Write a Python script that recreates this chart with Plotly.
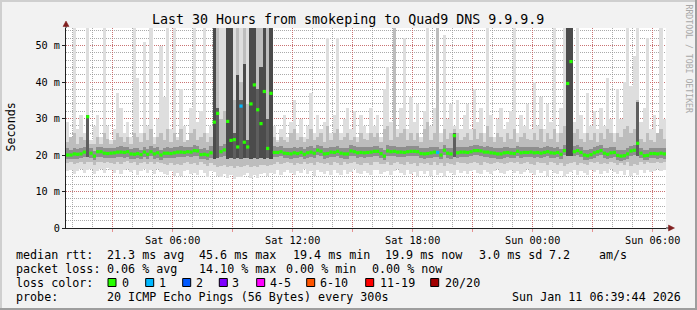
import pandas as pd
import plotly.graph_objects as go

TITLE = "Last 30 Hours from smokeping to Quad9 DNS 9.9.9.9"
START = "2026-01-10 00:40:00"
END = "2026-01-11 06:40:00"
STEP_MIN = 10

# median rtt per 10-minute interval (ms)
median_ms = [
    20.0, 20.0, 20.3, 20.2, 20.3, 20.8, 30.5, 20.5, 19.7, 20.9,
    20.9, 20.5, 20.4, 20.5, 20.6, 20.8, 20.8, 20.7, 20.9, 20.3,
    20.2, 20.4, 20.1, 20.8, 20.2, 20.9, 20.3, 20.6, 20.0, 20.5,
    20.5, 20.4, 20.6, 20.8, 20.8, 20.7, 20.9, 20.8, 21.2, 21.1,
    20.1, 20.2, 20.0, 20.6, 29.0, 31.4, 20.9, 21.4, 29.2, 24.0,
    24.2, 22.2, 33.4, 23.5, 22.2, 34.0, 39.2, 32.4, 28.6, 37.4,
    21.8, 36.9, 20.7, 20.7, 20.9, 20.5, 20.4, 20.3, 20.6, 20.4,
    20.7, 20.2, 20.6, 20.8, 20.5, 21.3, 21.0, 20.3, 20.4, 20.8,
    20.7, 21.0, 20.5, 20.3, 20.3, 21.1, 20.9, 20.6, 20.7, 20.6,
    20.7, 20.8, 21.0, 21.0, 20.4, 19.7, 21.1, 20.9, 21.0, 20.8,
    20.8, 20.7, 20.9, 21.0, 21.0, 20.9, 20.4, 20.3, 20.4, 20.6,
    20.8, 20.7, 20.0, 21.3, 20.5, 20.3, 25.3, 20.6, 20.8, 20.8,
    20.7, 20.9, 21.2, 21.2, 21.1, 20.8, 20.8, 20.6, 20.5, 20.3,
    20.3, 20.6, 20.7, 20.5, 20.4, 21.0, 20.6, 20.7, 20.7, 20.8,
    20.6, 20.7, 20.5, 20.7, 20.9, 20.6, 20.5, 20.7, 20.2, 21.2,
    39.6, 45.6, 20.9, 21.2, 20.7, 20.0, 19.8, 20.1, 20.6, 20.9,
    21.2, 20.5, 20.2, 20.6, 20.7, 19.9, 19.7, 19.8, 20.3, 21.1,
    21.3, 23.2, 20.5, 19.8, 19.9, 20.4, 20.4, 20.3, 20.5, 20.3,
]

# lost pings per interval (of 20)
loss_cnt = [
    0, 0, 0, 0, 0, 0, 0, 0, 0, 0, 0, 0, 0, 0, 0, 0, 0, 0, 0, 0,
    0, 0, 0, 0, 0, 0, 0, 0, 0, 0, 0, 0, 0, 0, 0, 0, 0, 0, 0, 0,
    0, 0, 0, 0, 0, 0, 0, 0, 0, 0, 0, 0, 1, 0, 0, 0, 0, 0, 0, 0,
    0, 0, 0, 0, 0, 0, 0, 0, 0, 0, 0, 0, 0, 0, 0, 0, 0, 0, 0, 0,
    0, 0, 0, 0, 0, 0, 0, 0, 0, 0, 0, 0, 0, 0, 0, 0, 0, 0, 0, 0,
    0, 0, 0, 0, 0, 0, 0, 0, 0, 0, 0, 1, 0, 0, 0, 0, 0, 0, 0, 0,
    0, 0, 0, 0, 0, 0, 0, 0, 0, 0, 0, 0, 0, 0, 0, 0, 0, 0, 0, 0,
    0, 0, 0, 0, 0, 0, 0, 0, 0, 0, 0, 0, 0, 0, 0, 0, 0, 0, 0, 0,
    0, 0, 0, 0, 0, 0, 0, 0, 0, 0, 0, 0, 0, 0, 0, 0, 0, 0, 0, 0,
]

# outer smoke (fastest .. slowest ping), ms
smoke_lo = [
    15.5, 16.0, 14.8, 15.6, 16.2, 15.0, 15.8, 16.3, 14.9, 15.7,
    16.1, 15.2, 16.4, 15.8, 15.0, 16.0, 14.7, 15.9, 16.3, 15.4,
    16.0, 14.6, 15.7, 16.2, 15.1, 15.9, 14.8, 16.1, 15.3, 14.9,
    14.5, 15.6, 14.2, 15.0, 14.3, 15.5, 16.0, 14.8, 15.2, 14.4,
    16.0, 15.1, 14.0, 15.7, 15.3, 14.2, 13.9, 14.8, 13.6, 14.5,
    13.5, 14.1, 13.9, 14.4, 15.0, 13.8, 14.6, 13.7, 14.8, 15.1,
    14.3, 15.2, 14.9, 15.8, 14.6, 15.4, 16.0, 15.1, 14.5, 15.7,
    15.0, 16.1, 14.7, 15.5, 14.2, 15.9, 15.3, 14.8, 15.6, 14.4,
    16.0, 15.2, 14.6, 15.8, 14.9, 15.4, 16.2, 15.0, 14.7, 15.6,
    15.1, 14.5, 15.8, 16.0, 14.8, 15.3, 15.7, 14.4, 15.5, 16.1,
    15.0, 14.6, 15.9, 14.8, 15.4, 14.2, 15.7, 14.9, 15.5, 14.3,
    15.8, 14.4, 15.2, 14.0, 15.6, 15.0, 14.6, 15.8, 15.1, 15.7,
    14.8, 15.5, 16.0, 15.2, 14.7, 15.9, 15.3, 14.9, 15.6, 16.1,
    15.2, 14.8, 15.6, 16.0, 15.1, 15.7, 14.9, 15.4, 16.2, 15.0,
    14.6, 15.8, 15.1, 15.5, 14.3, 15.9, 15.2, 14.7, 15.6, 14.1,
    14.9, 15.4, 15.8, 14.5, 15.7, 15.0, 14.6, 16.0, 15.3, 15.8,
    14.9, 15.6, 15.2, 16.1, 15.4, 14.8, 15.5, 14.5, 15.9, 14.2,
    15.0, 14.6, 15.8, 15.2, 16.0, 15.4, 15.7, 16.2, 15.5, 16.0,
]
smoke_hi = [
    29, 25, 56, 27, 31, 26, 56, 24, 28, 31,
    25, 56, 28, 24, 27, 37, 33, 26, 29, 25,
    56, 41, 26, 51, 28, 56, 25, 30, 50, 36,
    56, 27, 56, 25, 38, 28, 24, 33, 56, 29,
    32, 56, 26, 28, 56, 56, 56, 56, 56, 56,
    56, 56, 56, 56, 56, 56, 56, 56, 56, 56,
    56, 56, 28, 24, 27, 31, 25, 29, 35, 26,
    30, 25, 28, 37, 26, 31, 27, 29, 52, 26,
    31, 52, 26, 30, 33, 27, 32, 25, 31, 28,
    26, 33, 28, 31, 25, 38, 44, 29, 56, 27,
    33, 52, 27, 36, 29, 34, 25, 32, 56, 28,
    33, 56, 26, 53, 30, 34, 28, 35, 27, 31,
    34, 27, 38, 29, 33, 26, 56, 31, 25, 30,
    33, 27, 29, 32, 56, 26, 31, 28, 34, 27,
    40, 28, 36, 27, 34, 29, 56, 26, 33, 56,
    56, 56, 29, 56, 31, 26, 37, 28, 32, 27,
    33, 28, 41, 30, 26, 38, 30, 40, 56, 39,
    47, 56, 29, 33, 52, 27, 31, 26, 56, 30,
]

# middle smoke band, ms
mid_lo = [
    17.8, 18.0, 17.5, 17.9, 18.1, 17.6, 18.0, 18.2, 17.4, 18.0,
    18.2, 17.8, 18.1, 17.9, 17.6, 18.0, 17.5, 18.1, 18.3, 17.7,
    18.0, 17.4, 17.9, 18.2, 17.6, 18.0, 17.5, 18.1, 17.7, 17.5,
    17.3, 17.8, 17.2, 17.6, 17.3, 17.8, 18.0, 17.5, 17.7, 17.2,
    18.0, 17.6, 17.1, 17.9, 17.2, 16.8, 16.9, 17.3, 16.6, 17.0,
    16.5, 16.9, 16.7, 17.0, 17.4, 16.6, 17.1, 16.8, 17.2, 17.4,
    17.0, 17.3, 17.6, 18.0, 17.5, 17.8, 18.1, 17.7, 17.4, 17.9,
    17.6, 18.2, 17.5, 17.8, 17.2, 18.1, 17.8, 17.5, 17.9, 17.3,
    18.1, 17.8, 17.4, 18.0, 17.6, 17.8, 18.2, 17.6, 17.4, 17.9,
    17.7, 17.3, 18.0, 18.1, 17.5, 17.6, 18.0, 17.2, 17.8, 18.2,
    17.6, 17.3, 18.0, 17.5, 17.8, 17.1, 17.9, 17.5, 17.8, 17.2,
    18.0, 17.3, 17.7, 17.0, 17.9, 17.6, 17.4, 18.0, 17.7, 17.9,
    17.5, 17.8, 18.2, 17.8, 17.4, 18.0, 17.8, 17.5, 17.9, 18.2,
    17.8, 17.5, 17.9, 18.1, 17.7, 18.0, 17.5, 17.8, 18.2, 17.6,
    17.4, 18.0, 17.7, 17.9, 17.2, 18.0, 17.7, 17.4, 17.9, 17.1,
    17.6, 17.8, 18.0, 17.3, 17.9, 17.5, 17.2, 18.1, 17.8, 18.0,
    17.6, 17.9, 17.6, 18.2, 17.8, 17.4, 17.8, 17.2, 18.0, 17.1,
    17.6, 17.4, 18.0, 17.6, 18.1, 17.8, 17.9, 18.2, 17.8, 18.1,
]
mid_hi = [
    23.5, 25, 26, 23, 25, 24, 31, 23, 23, 25,
    23, 26, 24.5, 23, 24, 26, 25, 23.5, 25, 23,
    26, 25, 23.5, 26, 24, 27, 23, 25, 26, 24,
    27, 23.5, 26, 24, 27, 23.5, 24, 26, 27, 24,
    25, 26, 23.5, 25, 56, 56, 30, 32, 56, 56,
    35, 56, 40, 56, 34, 56, 56, 56, 56, 56,
    56, 56, 25, 23.5, 25, 24, 23.5, 26, 27, 24,
    25, 23.5, 24.5, 27, 24, 25, 26, 23.5, 28, 24,
    26, 27, 24, 25, 26, 24, 25, 23.5, 26, 24.5,
    24, 26, 25, 26, 23.5, 27, 28, 24, 56, 25,
    26, 27, 24, 26, 24, 26, 23.5, 27, 29, 24,
    26, 56, 23.5, 27, 24.5, 26, 27, 26, 24, 25,
    26, 24, 27, 24.5, 26, 23.5, 28, 25, 23.5, 26,
    25, 23.5, 26, 24.5, 27, 23.5, 25, 26, 24.5, 24,
    26, 24, 27, 23.5, 26, 24.5, 27, 23.5, 26, 28,
    56, 56, 26, 27, 24.5, 23.5, 26, 24, 26, 23.5,
    26, 24.5, 27, 26, 23.5, 26, 25, 27, 28, 26,
    27, 35, 24.5, 23.5, 26, 24, 23.5, 26, 27, 24.5,
]

# inner (dense) smoke band, ms
dark_lo = [
    18.8, 18.9, 19.0, 19.0, 19.1, 19.4, 19.5, 19.2, 18.6, 19.5,
    19.5, 19.2, 19.1, 19.2, 19.3, 19.4, 19.5, 19.3, 19.5, 19.0,
    18.9, 19.1, 18.8, 19.4, 18.9, 19.6, 19.0, 19.3, 18.7, 19.2,
    19.2, 19.1, 19.3, 19.5, 19.4, 19.4, 19.6, 19.5, 19.8, 19.7,
    18.8, 18.9, 18.7, 19.3, 19.0, 19.2, 19.4, 19.6, 19.0, 19.2,
    19.0, 19.3, 19.0, 19.2, 19.1, 19.0, 19.2, 19.0, 19.1, 19.0,
    19.3, 19.0, 19.4, 19.4, 19.6, 19.2, 19.1, 19.0, 19.3, 19.1,
    19.4, 18.9, 19.3, 19.5, 19.2, 19.9, 19.7, 19.0, 19.1, 19.5,
    19.4, 19.7, 19.2, 19.0, 19.0, 19.8, 19.6, 19.3, 19.4, 19.3,
    19.4, 19.5, 19.7, 19.7, 19.1, 18.5, 19.8, 19.6, 19.7, 19.5,
    19.5, 19.4, 19.6, 19.7, 19.7, 19.6, 19.1, 19.0, 19.1, 19.3,
    19.5, 19.4, 18.8, 20.0, 19.2, 19.0, 19.5, 19.3, 19.5, 19.5,
    19.4, 19.6, 19.9, 19.9, 19.8, 19.5, 19.5, 19.3, 19.2, 19.0,
    19.0, 19.3, 19.4, 19.2, 19.1, 19.7, 19.3, 19.4, 19.4, 19.5,
    19.3, 19.4, 19.2, 19.4, 19.6, 19.3, 19.2, 19.4, 18.9, 19.9,
    19.8, 19.6, 19.6, 19.9, 19.4, 18.7, 18.5, 18.8, 19.3, 19.6,
    19.9, 19.2, 18.9, 19.3, 19.4, 18.6, 18.4, 18.5, 19.0, 19.8,
    20.0, 19.6, 19.2, 18.5, 18.6, 19.1, 19.1, 19.0, 19.2, 19.0,
]
dark_hi = [
    21.8, 21.5, 21.9, 21.6, 21.8, 22.2, 31.0, 21.9, 21.2, 22.3,
    22.2, 21.9, 21.8, 21.9, 22.0, 22.3, 22.4, 22.1, 22.3, 21.7,
    21.8, 22.0, 21.5, 22.3, 21.7, 22.5, 21.8, 22.1, 21.5, 22.0,
    22.1, 21.9, 22.2, 22.3, 22.4, 22.1, 22.3, 22.2, 22.8, 22.5,
    21.6, 21.8, 21.5, 22.4, 56.0, 33.0, 22.5, 23.0, 56.0, 56.0,
    26.0, 42.0, 35.0, 45.0, 24.0, 56.0, 56.0, 38.0, 44.0, 56.0,
    30.0, 56.0, 22.5, 22.2, 22.4, 22.0, 21.9, 21.8, 22.1, 21.9,
    22.2, 21.7, 22.1, 22.4, 22.0, 22.8, 22.5, 21.8, 22.0, 22.3,
    22.2, 22.6, 22.0, 21.8, 21.9, 22.7, 22.4, 22.1, 22.2, 22.1,
    22.2, 22.3, 22.6, 22.5, 21.9, 21.3, 22.7, 22.4, 22.6, 22.3,
    22.3, 22.2, 22.4, 22.6, 22.5, 22.4, 21.9, 21.8, 22.0, 22.1,
    22.3, 22.3, 21.6, 22.8, 22.0, 21.8, 26.0, 22.1, 22.3, 22.3,
    22.2, 22.4, 22.7, 22.7, 22.6, 22.3, 22.4, 22.1, 22.0, 21.8,
    21.8, 22.1, 22.2, 22.0, 22.0, 22.5, 22.1, 22.2, 22.2, 22.3,
    22.1, 22.2, 22.0, 22.2, 22.4, 22.1, 22.0, 22.2, 21.7, 22.8,
    56.0, 56.0, 22.5, 22.7, 22.2, 21.5, 21.4, 21.6, 22.1, 22.4,
    22.7, 22.0, 21.8, 22.1, 22.2, 21.5, 21.3, 21.4, 21.9, 22.6,
    22.8, 34.5, 22.0, 21.4, 21.5, 21.9, 22.0, 21.8, 22.0, 21.8,
]

y_tickvals = [0, 10, 20, 30, 40, 50]
y_ticktext = ["0", "10 m", "20 m", "30 m", "40 m", "50 m"]
x_tickvals = ["2026-01-10 03:00", "2026-01-10 06:00", "2026-01-10 09:00",
              "2026-01-10 12:00", "2026-01-10 15:00", "2026-01-10 18:00",
              "2026-01-10 21:00", "2026-01-11 00:00", "2026-01-11 03:00",
              "2026-01-11 06:00"]
x_ticktext = ["", "Sat 06:00", "", "Sat 12:00", "", "Sat 18:00", "",
              "Sun 00:00", "", "Sun 06:00"]

loss_labels = ["0", "1", "2", "3", "4-5", "6-10", "11-19", "20/20"]
loss_colors = ["#26ff00", "#00b8ff", "#0059ff", "#7e00ff", "#ff00ff",
               "#ff5500", "#ff0000", "#a10000"]
loss_upper = [0, 1, 2, 3, 5, 10, 19, 20]

stats_rtt = ["median rtt:", "21.3 ms avg", "45.6 ms max", "19.4 ms min",
             "19.9 ms now", "3.0 ms sd", "7.2", "am/s"]
stats_loss = ["packet loss:", "0.06 % avg", "14.10 % max", "0.00 % min",
              "0.00 % now"]
probe_text = ["probe:", "20 ICMP Echo Pings (56 Bytes) every 300s",
              "Sun Jan 11 06:39:44 2026"]
watermark = "RRDTOOL / TOBI OETIKER"

# ---------------------------------------------------------------- layout
W, H = 697, 310
ML, MR, MT, MB = 66, 31, 28, 82
PW, PH = W - ML - MR, H - MT - MB
MONO = "DejaVu Sans Mono"


def px(x):
    return (x - ML) / PW


def py(y):
    return (H - MB - y) / PH


def color_for(n):
    for up, c in zip(loss_upper, loss_colors):
        if n <= up:
            return c
    return loss_colors[-1]


def dense_shade(lo, hi):
    span = hi - lo
    if span > 20:
        return "#4b4b4b"
    if span > 4:
        return "#5e5e5e"
    return "#8e8e8e"


times = pd.date_range(START, periods=len(median_ms), freq=f"{STEP_MIN}min") \
    + pd.Timedelta(minutes=STEP_MIN / 2)
bar_w = STEP_MIN * 60 * 1000

fig = go.Figure()


def band(lo, hi, col):
    fig.add_trace(go.Bar(
        x=times, y=[h - l for l, h in zip(lo, hi)], base=lo, width=bar_w,
        marker=dict(color=col, line=dict(width=0)), hoverinfo="skip",
        showlegend=False))


band(smoke_lo, smoke_hi, "#dedede")
band(mid_lo, mid_hi, "#bdbdbd")
band(dark_lo, dark_hi, [dense_shade(l, h) for l, h in zip(dark_lo, dark_hi)])

fig.add_trace(go.Scatter(
    x=times, y=median_ms, mode="markers",
    marker=dict(symbol="square", size=3.2,
                color=[color_for(n) for n in loss_cnt], line=dict(width=0)),
    showlegend=False, hoverinfo="skip"))

grid_minor = "rgba(143,143,143,0.75)"
grid_major = "rgba(222,79,79,0.6)"

fig.update_layout(
    width=W, height=H, autosize=False,
    margin=dict(l=ML, r=MR, t=MT, b=MB, pad=0),
    paper_bgcolor="#f2f2f2", plot_bgcolor="#ffffff",
    barmode="overlay", bargap=0,
    font=dict(family=MONO, size=10.2, color="#000000"),
    xaxis=dict(
        type="date", range=[START, END], tickmode="array",
        tickvals=x_tickvals, ticktext=x_ticktext,
        showgrid=True, gridcolor=grid_major, griddash="1px,1px", gridwidth=1,
        minor=dict(dtick=3600000, tick0="2026-01-10 00:00", showgrid=True,
                   gridcolor=grid_minor, griddash="1px,1px", gridwidth=1),
        showline=True, linecolor="#1f1f1f", linewidth=1,
        ticks="outside", ticklen=3, tickcolor=grid_major,
        tickfont=dict(family=MONO, size=10.2), zeroline=False,
        fixedrange=True),
    yaxis=dict(
        range=[0, 54.8], tickmode="array", tickvals=y_tickvals,
        ticktext=y_ticktext,
        showgrid=True, gridcolor=grid_major, griddash="1px,1px", gridwidth=1,
        minor=dict(dtick=2, tick0=0, showgrid=True, gridcolor=grid_minor,
                   griddash="1px,1px", gridwidth=1),
        showline=True, linecolor="#1f1f1f", linewidth=1,
        ticks="outside", ticklen=3, tickcolor="#1f1f1f",
        tickfont=dict(family=MONO, size=10.2), zeroline=False,
        fixedrange=True),
)

shapes = []
# frame shading
shapes.append(dict(type="line", xref="paper", yref="paper", x0=px(0), x1=px(W),
                   y0=py(1), y1=py(1), line=dict(color="#cfcfcf", width=2)))
shapes.append(dict(type="line", xref="paper", yref="paper", x0=px(1), x1=px(1),
                   y0=py(0), y1=py(H), line=dict(color="#cfcfcf", width=2)))
shapes.append(dict(type="line", xref="paper", yref="paper", x0=px(0), x1=px(W),
                   y0=py(H - 1), y1=py(H - 1), line=dict(color="#9e9e9e", width=2)))
shapes.append(dict(type="line", xref="paper", yref="paper", x0=px(W - 1), x1=px(W - 1),
                   y0=py(0), y1=py(H), line=dict(color="#9e9e9e", width=2)))
# axis extensions and arrows
shapes.append(dict(type="line", xref="paper", yref="paper", x0=1, x1=px(670),
                   y0=0, y1=0, line=dict(color="#1f1f1f", width=1)))
shapes.append(dict(type="line", xref="paper", yref="paper", x0=0, x1=0,
                   y0=1, y1=py(24), line=dict(color="#1f1f1f", width=1)))


def tri(pts):
    s = "M " + " L ".join(f"{px(a):.5f},{py(b):.5f}" for a, b in pts) + " Z"
    return dict(type="path", xref="paper", yref="paper", path=s,
                fillcolor="#801f1f", line=dict(color="#801f1f", width=0.5))


shapes.append(tri([(668.5, 225), (674.5, 228), (668.5, 231)]))
shapes.append(tri([(63, 26.5), (66, 21), (69, 26.5)]))

# loss colour legend boxes
box_x = [108, 145.7, 182.7, 219.3, 256.7, 306.7, 365.7, 430.7]
lab_x = [122.3, 159, 195.7, 232.3, 269.7, 319.7, 379.7, 444.7]
for bx, c in zip(box_x, loss_colors):
    shapes.append(dict(type="rect", xref="paper", yref="paper",
                       x0=px(bx), x1=px(bx + 8), y0=py(286.5), y1=py(278.5),
                       fillcolor=c, line=dict(color="#000000", width=1)))
fig.update_layout(shapes=shapes)

NB = "\u00a0"
ann = []


def text(x, y, s, size=11.7, anchor="left", color="#000000", angle=0,
         yanchor="middle"):
    ann.append(dict(xref="paper", yref="paper", x=px(x), y=py(y),
                    text=s.replace(" ", NB), showarrow=False,
                    xanchor=anchor, yanchor=yanchor, borderpad=0,
                    borderwidth=0, textangle=angle,
                    font=dict(family=MONO, size=size, color=color)))


text(347.5, 19, TITLE, size=13.3, anchor="center")
text(10.5, 127, "Seconds", size=11.7, anchor="center", angle=-90)
text(688.5, 59, watermark, size=8.2, anchor="center", angle=90,
     color="#a8a8a8")

rtt_x = [15.5, 106.5, 199.3, 292.5, 385.3, 478.5, 548.5, 599.3]
for x, s in zip(rtt_x, stats_rtt):
    text(x, 254.5, s)
loss_x = [15.5, 106.5, 199.3, 286, 372]
for x, s in zip(loss_x, stats_loss):
    text(x, 268.5, s)
text(15.5, 282.5, "loss color:")
for x, s in zip(lab_x, loss_labels):
    text(x, 282.5, s)
text(15.5, 296.5, probe_text[0])
text(106.5, 296.5, probe_text[1])
text(681, 296.5, probe_text[2], anchor="right")

fig.update_layout(annotations=ann)
fig.write_html("out.html")
